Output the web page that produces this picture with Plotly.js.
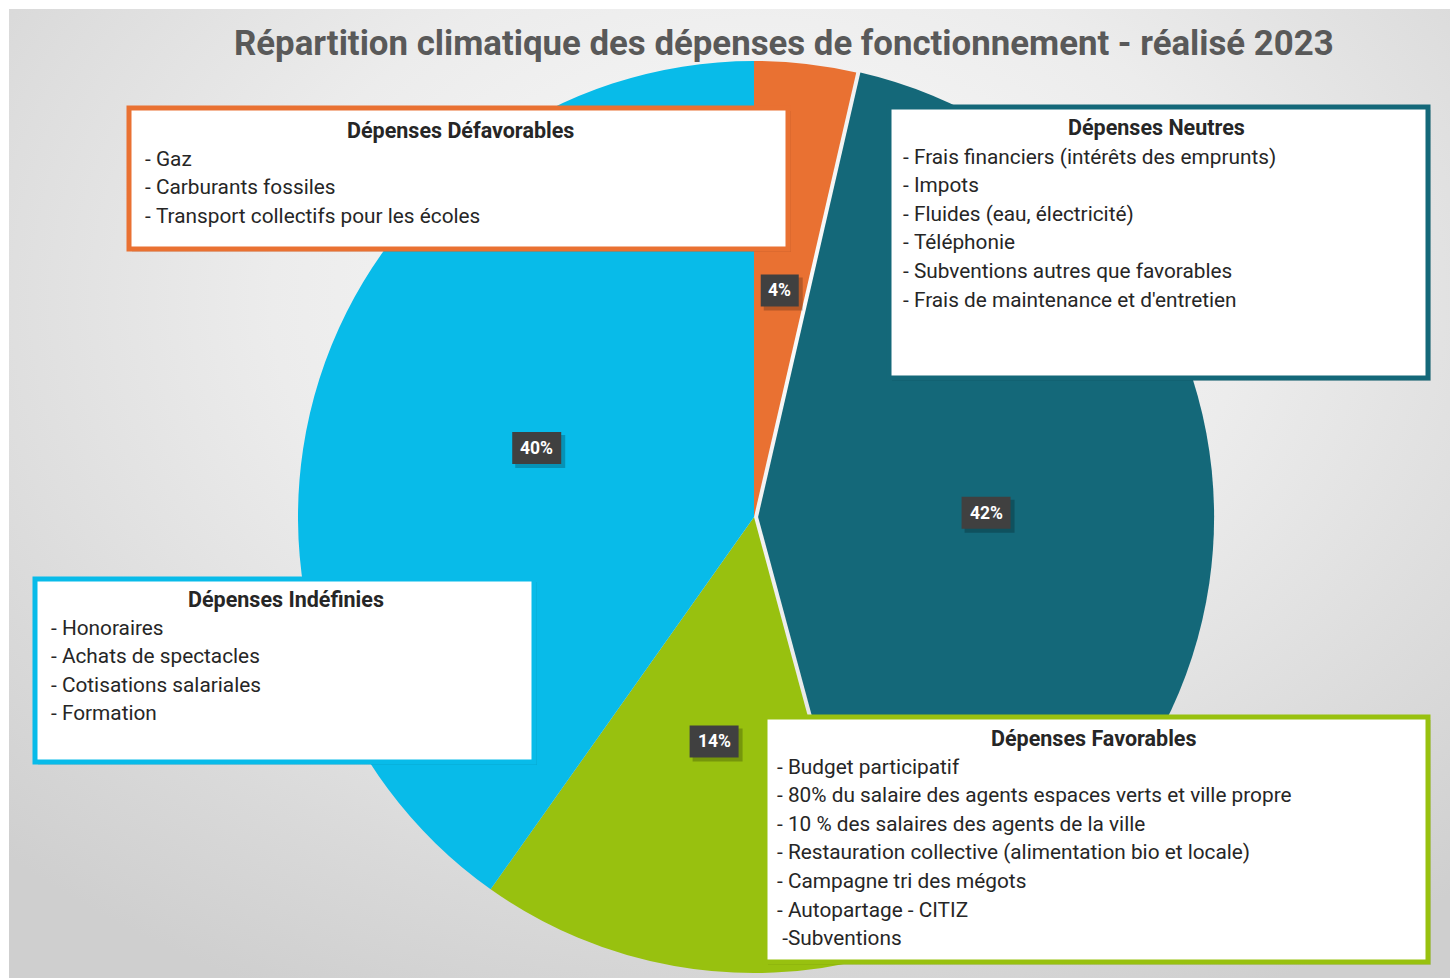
<!DOCTYPE html>
<html>
<head>
<meta charset="utf-8">
<script src="https://cdn.plot.ly/plotly-3.0.1.min.js"></script>
<style>
  html, body { margin: 0; padding: 0; background: #ffffff; }
  #bg { position: absolute; left: 9px; top: 9px; width: 1441px; height: 969px;
        background: radial-gradient(ellipse 75% 80% at 52% 30%, #fbfbfb 0%, #ececec 45%, #d9d9d9 80%, #cfcfcf 100%); }
  #chart { position: absolute; left: 0; top: 0; width: 1450px; height: 978px; }
</style>
</head>
<body>
<div id="bg"></div>
<div id="chart"></div>
<script>
// ---- Data ----
const categories = ['Dépenses Défavorables', 'Dépenses Neutres', 'Dépenses Favorables', 'Dépenses Indéfinies'];
const values = [3.6, 42.2, 14.0, 40.2];
const sliceColors = ['#E97132', '#146879', '#98C10F', '#08BBE9'];
const pulls = [0, 0.009, 0, 0];

const itemsDefavorables = ['- Gaz', '- Carburants fossiles', '- Transport collectifs pour les écoles'];
const itemsNeutres = ['- Frais financiers (intérêts des emprunts)', '- Impots', '- Fluides (eau, électricité)',
  '- Téléphonie', '- Subventions autres que favorables', '- Frais de maintenance et d\'entretien'];
const itemsIndefinies = ['- Honoraires', '- Achats de spectacles', '- Cotisations salariales', '- Formation'];
const itemsFavorables = ['- Budget participatif', '- 80% du salaire des agents espaces verts et ville propre',
  '- 10 % des salaires des agents de la ville', '- Restauration collective (alimentation bio et locale)',
  '- Campagne tri des mégots', '- Autopartage - CITIZ', ' -Subventions'];

const chartTitle = 'Répartition climatique des dépenses de fonctionnement - réalisé 2023';

// ---- Layout geometry (pixels) ----
const W = 1450, H = 978;
const cx = 754, cy = 517, R = 456;
const px = x => x / W;
const py = y => 1 - y / H;
const maxPull = Math.max(...pulls);
const half = R * (1 + maxPull);

const FONT = 'Roboto, "Open Sans", sans-serif';
const textColor = '#262626';

const trace = {
  type: 'pie',
  labels: categories,
  values: values,
  sort: false,
  direction: 'clockwise',
  rotation: 0,
  pull: pulls,
  marker: { colors: sliceColors, line: { width: 0 } },
  textinfo: 'none',
  hoverinfo: 'label+percent',
  showlegend: false,
  domain: { x: [px(cx - half), px(cx + half)], y: [py(cy + half), py(cy - half)] }
};

const shapes = [];
const annotations = [];

// title
annotations.push({
  xref: 'paper', yref: 'paper', x: px(784), y: py(43), xanchor: 'center', yanchor: 'middle',
  text: '<b>' + chartTitle + '</b>', showarrow: false,
  font: { family: FONT, size: 34.8, color: '#595959' }
});

// percent labels computed from data
const total = values.reduce((a, b) => a + b, 0);
let cum = 0;
values.forEach((v, i) => {
  const mid = (cum + v / 2) / total * 2 * Math.PI;
  cum += v;
  const r = R * 0.5 + pulls[i] * R;
  const lx = cx + r * Math.sin(mid);
  const ly = cy - r * Math.cos(mid);
  const pct = String(Math.round(v / total * 100)) + '%';
  const hw = (pct.length * 11 + 16) / 2;
  // shadow
  shapes.push({ type: 'rect', xref: 'paper', yref: 'paper', layer: 'above',
    x0: px(lx - hw + 3), x1: px(lx + hw + 4), y0: py(ly - 16 + 3), y1: py(ly + 16 + 4),
    fillcolor: 'rgba(0,0,0,0.22)', line: { width: 0 } });
  shapes.push({ type: 'rect', xref: 'paper', yref: 'paper', layer: 'above',
    x0: px(lx - hw), x1: px(lx + hw), y0: py(ly - 16), y1: py(ly + 16),
    fillcolor: '#404040', line: { width: 0 } });
  annotations.push({
    xref: 'paper', yref: 'paper', x: px(lx), y: py(ly), xanchor: 'center', yanchor: 'middle',
    text: '<b>' + pct + '</b>', showarrow: false,
    font: { family: FONT, size: 17.5, color: '#ffffff' }
  });
});

// category boxes
const boxes = [
  { title: categories[0], items: itemsDefavorables, color: sliceColors[0], x0: 129, y0: 108, x1: 788, y1: 249, tx: 460, ty: 130, ix: 143 },
  { title: categories[1], items: itemsNeutres, color: sliceColors[1], x0: 889, y0: 107, x1: 1428, y1: 378, tx: 1156, ty: 128, ix: 901 },
  { title: categories[3], items: itemsIndefinies, color: sliceColors[3], x0: 35, y0: 579, x1: 534, y1: 762, tx: 286, ty: 599, ix: 49 },
  { title: categories[2], items: itemsFavorables, color: sliceColors[2], x0: 765, y0: 717, x1: 1428, y1: 962, tx: 1094, ty: 738, ix: 775 }
];
const lineStep = 28.6;
boxes.forEach(b => {
  shapes.push({ type: 'rect', xref: 'paper', yref: 'paper', layer: 'above',
    x0: px(b.x0 + 3), x1: px(b.x1 + 3), y0: py(b.y0 + 3), y1: py(b.y1 + 3),
    fillcolor: 'rgba(0,0,0,0.10)', line: { width: 0 } });
  shapes.push({ type: 'rect', xref: 'paper', yref: 'paper', layer: 'above',
    x0: px(b.x0), x1: px(b.x1), y0: py(b.y0), y1: py(b.y1),
    fillcolor: '#ffffff', line: { color: b.color, width: 5 } });
  annotations.push({ xref: 'paper', yref: 'paper', x: px(b.tx), y: py(b.ty), xanchor: 'center', yanchor: 'middle',
    text: '<b>' + b.title + '</b>', showarrow: false, font: { family: FONT, size: 21.5, color: textColor } });
  b.items.forEach((t, k) => {
    annotations.push({ xref: 'paper', yref: 'paper', x: px(b.ix), y: py(b.ty + lineStep * (k + 1)),
      xanchor: 'left', yanchor: 'middle', text: t.replace(/ /g, '\u00a0'), showarrow: false,
      font: { family: FONT, size: 20.8, color: textColor } });
  });
});

const layout = {
  width: W, height: H,
  margin: { l: 0, r: 0, t: 0, b: 0 },
  paper_bgcolor: 'rgba(0,0,0,0)',
  plot_bgcolor: 'rgba(0,0,0,0)',
  showlegend: false,
  shapes: shapes,
  annotations: annotations
};

Plotly.newPlot('chart', [trace], layout, { displayModeBar: false, staticPlot: true });
</script>
</body>
</html>
